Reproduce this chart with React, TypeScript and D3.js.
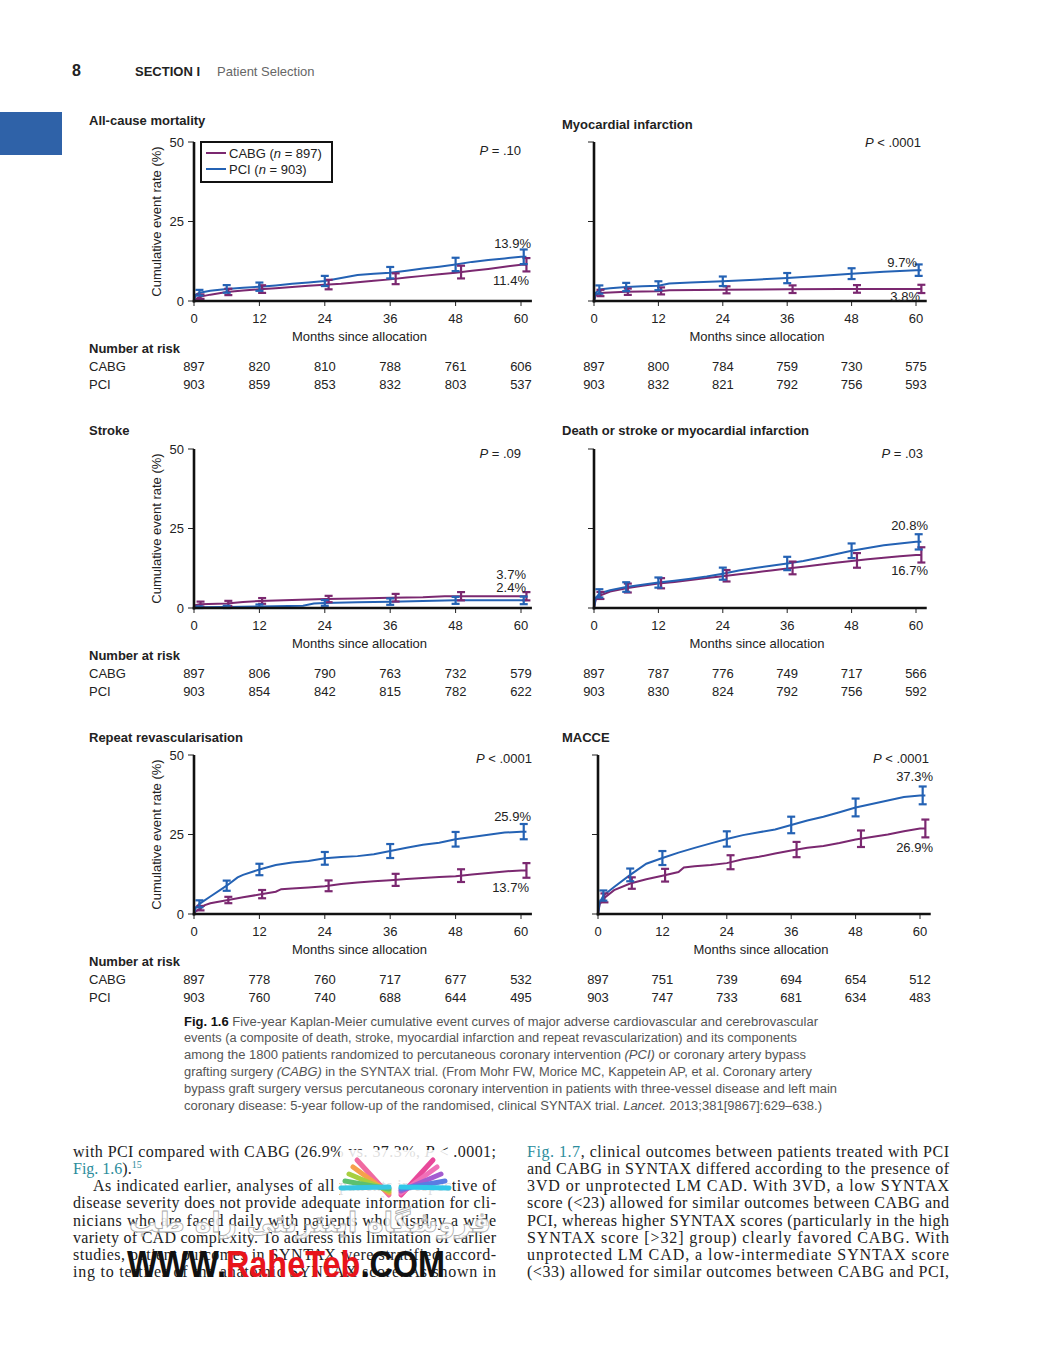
import * as d3 from "d3";

type Pt = [number, number];

// x ticks shared by every panel
const monthTicks = [0, 12, 24, 36, 48, 60];
const pciBarMonths = [1, 6, 12, 24, 36, 48, 60.5];
const cabgBarMonths = [1.2, 6.3, 12.5, 24.7, 37, 49, 61];

// All-cause mortality
const mortCabg: Pt[] = [[0, 0], [0.5, 0.8], [1, 1.3], [3, 2.0], [6, 2.8], [9, 3.3], [12, 3.7], [15, 4.0], [18, 4.4], [21, 4.8], [24, 5.1], [27, 5.4], [30, 5.9], [33, 6.4], [36, 6.8], [39, 7.4], [42, 7.9], [45, 8.4], [48, 8.9], [51, 9.5], [54, 10.1], [57, 10.8], [60, 11.4], [61, 11.4]];
const mortPci: Pt[] = [[0, 0], [0.3, 2.0], [1, 2.6], [3, 3.2], [6, 3.8], [9, 4.2], [12, 4.5], [15, 4.9], [18, 5.4], [21, 5.8], [24, 6.3], [27, 7.2], [30, 8.2], [33, 8.6], [36, 8.9], [39, 9.5], [42, 10.2], [45, 10.8], [48, 11.5], [51, 12.3], [54, 12.9], [57, 13.4], [60, 13.9], [61, 13.9]];
const mortCiCabg = [0.7, 1.0, 1.2, 1.5, 1.7, 2.0, 2.1];
const mortCiPci = [0.9, 1.2, 1.3, 1.6, 1.8, 2.1, 2.3];
const mortRiskCabg = [897, 820, 810, 788, 761, 606];
const mortRiskPci = [903, 859, 853, 832, 803, 537];

// Myocardial infarction
const miCabg: Pt[] = [[0, 0], [0.3, 1.8], [1, 2.5], [3, 2.7], [6, 2.9], [9, 3.0], [12, 3.1], [14, 3.4], [24, 3.5], [36, 3.7], [46, 3.8], [61, 3.8]];
const miPci: Pt[] = [[0, 0], [0.3, 2.5], [1, 3.6], [3, 4.0], [6, 4.4], [9, 4.6], [12, 4.8], [14, 5.5], [18, 5.8], [24, 6.2], [30, 6.7], [36, 7.2], [42, 7.9], [48, 8.6], [54, 9.2], [60, 9.7], [61, 9.7]];
const miCiCabg = [1.0, 1.0, 1.1, 1.1, 1.2, 1.2, 1.3];
const miCiPci = [1.3, 1.3, 1.4, 1.5, 1.6, 1.7, 1.8];
const miRiskCabg = [897, 800, 784, 759, 730, 575];
const miRiskPci = [903, 832, 821, 792, 756, 593];

// Stroke
const strokeCabg: Pt[] = [[0, 0], [0.3, 0.9], [1, 1.2], [6, 1.4], [9, 1.9], [12, 2.2], [18, 2.5], [24, 2.8], [30, 3.0], [36, 3.2], [42, 3.4], [46, 3.7], [61, 3.7]];
const strokePci: Pt[] = [[0, 0], [0.5, 0.2], [6, 0.3], [12, 0.5], [20, 0.7], [22, 1.4], [24, 1.6], [30, 1.8], [36, 2.0], [42, 2.2], [48, 2.4], [61, 2.4]];
const strokeCiCabg = [0.8, 0.8, 0.9, 1.0, 1.2, 1.3, 1.3];
const strokeCiPci = [0.3, 0.4, 0.6, 0.9, 1.0, 1.1, 1.2];
const strokeRiskCabg = [897, 806, 790, 763, 732, 579];
const strokeRiskPci = [903, 854, 842, 815, 782, 622];

// Death or stroke or myocardial infarction
const dsmCabg: Pt[] = [[0, 0], [0.3, 2.5], [1, 3.8], [3, 5.2], [6, 6.2], [9, 7.0], [12, 7.7], [15, 8.2], [18, 8.8], [21, 9.4], [24, 10.0], [27, 10.6], [30, 11.2], [33, 11.8], [36, 12.4], [39, 13.0], [42, 13.6], [45, 14.2], [48, 14.8], [51, 15.3], [54, 15.8], [57, 16.3], [60, 16.7], [61, 16.7]];
const dsmPci: Pt[] = [[0, 0], [0.3, 3.0], [1, 4.6], [3, 5.6], [6, 6.6], [9, 7.3], [12, 8.0], [15, 8.6], [18, 9.2], [21, 9.9], [24, 10.8], [27, 11.8], [30, 12.6], [33, 13.3], [36, 14.0], [39, 14.8], [42, 15.8], [45, 16.9], [48, 18.0], [51, 18.9], [54, 19.7], [57, 20.3], [60, 20.8], [61, 20.8]];
const dsmCiCabg = [1.1, 1.4, 1.6, 1.8, 2.0, 2.3, 2.4];
const dsmCiPci = [1.3, 1.5, 1.6, 1.9, 2.1, 2.3, 2.4];
const dsmRiskCabg = [897, 787, 776, 749, 717, 566];
const dsmRiskPci = [903, 830, 824, 792, 756, 592];

// Repeat revascularisation
const revCabg: Pt[] = [[0, 0], [0.3, 0.8], [1, 1.6], [2, 2.8], [3, 3.4], [6, 4.3], [9, 5.3], [12, 6.1], [15, 7.0], [16, 7.8], [18, 8.0], [21, 8.3], [24, 8.7], [27, 9.4], [30, 9.9], [33, 10.3], [36, 10.6], [39, 11.0], [42, 11.3], [45, 11.6], [48, 11.9], [51, 12.4], [54, 12.9], [57, 13.4], [60, 13.7], [61, 13.7]];
const revPci: Pt[] = [[0, 0], [0.3, 2.0], [1, 3.2], [3, 5.5], [6, 8.9], [8, 11.5], [9, 12.3], [12, 14.0], [15, 15.4], [18, 16.2], [21, 16.7], [24, 17.5], [27, 17.9], [30, 18.2], [33, 18.8], [36, 19.8], [39, 20.8], [42, 21.8], [45, 22.4], [48, 23.5], [51, 24.2], [54, 24.9], [57, 25.6], [60, 25.9], [61, 25.9]];
const revCiCabg = [0.7, 1.0, 1.3, 1.7, 1.9, 2.0, 2.3];
const revCiPci = [1.1, 1.6, 1.8, 2.0, 2.2, 2.3, 2.4];
const revRiskCabg = [897, 778, 760, 717, 677, 532];
const revRiskPci = [903, 760, 740, 688, 644, 495];

// MACCE
const macceCabg: Pt[] = [[0, 0], [0.3, 3.0], [1, 4.8], [3, 7.5], [6, 9.6], [9, 10.9], [12, 12.0], [15, 13.2], [16, 14.6], [18, 15.0], [21, 15.4], [24, 16.0], [27, 17.2], [30, 18.0], [33, 19.0], [36, 20.0], [39, 20.8], [42, 21.4], [45, 22.3], [48, 23.4], [51, 24.2], [54, 25.0], [57, 26.0], [60, 26.9], [61, 26.9]];
const maccePci: Pt[] = [[0, 0], [0.3, 3.5], [1, 5.8], [3, 8.5], [6, 12.3], [9, 15.8], [12, 17.6], [15, 19.3], [18, 20.8], [21, 22.2], [24, 23.6], [27, 24.8], [30, 25.7], [33, 26.6], [36, 28.0], [39, 29.4], [42, 30.6], [45, 32.0], [48, 33.5], [51, 34.6], [54, 35.7], [57, 36.8], [60, 37.3], [61, 37.3]];
const macceCiCabg = [1.4, 1.8, 2.0, 2.2, 2.4, 2.6, 2.8];
const macceCiPci = [1.6, 2.0, 2.2, 2.4, 2.6, 2.8, 2.8];
const macceRiskCabg = [897, 751, 739, 694, 654, 512];
const macceRiskPci = [903, 747, 733, 681, 634, 483];

const CABG = "#7b2870";
const PCI = "#2462b4";
const SANS = "'Liberation Sans', Arial, Helvetica, sans-serif";
const SERIF = "'Liberation Serif', 'Times New Roman', serif";
const TEAL = "#2b8c9c";

// value of a curve at a month (linear between read points)
const valueAt = (s: Pt[], m: number) => {
  for (let i = 1; i < s.length; i++) {
    const [t0, y0] = s[i - 1];
    const [t1, y1] = s[i];
    if (m <= t1) return y0 + ((y1 - y0) * (m - t0)) / (t1 - t0);
  }
  return s[s.length - 1][1];
};

interface PanelProps {
  title: string;
  titleY: number;
  x0: number;
  x60: number;
  yBottom: number;
  left: boolean;
  pRel: string;
  pVal: string;
  pX: number;
  pY: number;
  cabg: Pt[];
  pci: Pt[];
  ciCabg: number[];
  ciPci: number[];
  riskCabg: number[];
  riskPci: number[];
  labels: { text: string; x: number; y: number }[];
  legend?: boolean;
}

function Panel(p: PanelProps) {
  const x = d3.scaleLinear().domain([0, 60]).range([p.x0, p.x60]);
  const y = d3.scaleLinear().domain([0, 50]).range([p.yBottom, p.yBottom - 159]);
  const line = d3
    .line<Pt>()
    .x((d) => x(d[0]))
    .y((d) => y(d[1]))
    .curve(d3.curveLinear);
  const labelX = p.left ? 89 : 562;
  const bars = (s: Pt[], months: number[], ci: number[], color: string) =>
    months.map((m, i) => {
      const v = valueAt(s, m);
      const cx = x(m);
      const lo = y(Math.max(0, v - ci[i]));
      const hi = y(v + ci[i]);
      return (
        <g key={color + i} stroke={color} strokeWidth={2.2}>
          <line x1={cx} x2={cx} y1={lo} y2={hi} />
          <line x1={cx - 4} x2={cx + 4} y1={lo} y2={lo} />
          <line x1={cx - 4} x2={cx + 4} y1={hi} y2={hi} />
        </g>
      );
    });

  return (
    <g fontFamily={SANS} fill="#222">
      <text x={labelX} y={p.titleY} fontSize={13} fontWeight="bold">
        {p.title}
      </text>

      {/* y ticks */}
      {[0, 25, 50].map((t) => (
        <g key={t}>
          <line x1={p.x0 - 6} x2={p.x0} y1={y(t)} y2={y(t)} stroke="#222" strokeWidth={1} />
          {p.left && (
            <text x={p.x0 - 10} y={y(t) + 4.5} fontSize={13} textAnchor="end">
              {t}
            </text>
          )}
        </g>
      ))}
      {p.left && (
        <text
          transform={`translate(${p.x0 - 33},${y(25)}) rotate(-90)`}
          textAnchor="middle"
          fontSize={13}
        >
          Cumulative event rate (%)
        </text>
      )}

      {/* x ticks */}
      {monthTicks.map((t) => (
        <g key={t}>
          <line x1={x(t)} x2={x(t)} y1={p.yBottom} y2={p.yBottom + 5} stroke="#222" strokeWidth={1} />
          <text x={x(t)} y={p.yBottom + 22} fontSize={13} textAnchor="middle">
            {t}
          </text>
        </g>
      ))}
      <text x={(p.x0 + p.x60) / 2 + 2} y={p.yBottom + 40} fontSize={13} textAnchor="middle">
        Months since allocation
      </text>

      {/* curves */}
      <path d={line(p.cabg) ?? ""} fill="none" stroke={CABG} strokeWidth={2} />
      <path d={line(p.pci) ?? ""} fill="none" stroke={PCI} strokeWidth={2} />
      {bars(p.cabg, cabgBarMonths, p.ciCabg, CABG)}
      {bars(p.pci, pciBarMonths, p.ciPci, PCI)}

      {/* axes */}
      <line x1={p.x0} x2={p.x0} y1={y(50)} y2={p.yBottom + 1.5} stroke="#111" strokeWidth={2.6} />
      <line x1={p.x0 - 1.3} x2={x(62)} y1={p.yBottom} y2={p.yBottom} stroke="#111" strokeWidth={2.6} />

      <text x={p.pX} y={p.pY} fontSize={13} textAnchor="end">
        <tspan fontStyle="italic">P</tspan>
        {` ${p.pRel} ${p.pVal}`}
      </text>
      {p.labels.map((l) => (
        <text key={l.text} x={l.x} y={l.y} fontSize={13} textAnchor="end">
          {l.text}
        </text>
      ))}

      {p.legend && (
        <g>
          <rect x={201} y={142} width={131} height={40} fill="#fff" stroke="#111" strokeWidth={2} />
          <line x1={206} x2={226} y1={153} y2={153} stroke={CABG} strokeWidth={2} />
          <text x={229} y={157.5} fontSize={13}>
            CABG (<tspan fontStyle="italic">n</tspan> = 897)
          </text>
          <line x1={206} x2={226} y1={169} y2={169} stroke={PCI} strokeWidth={2} />
          <text x={229} y={173.5} fontSize={13}>
            PCI (<tspan fontStyle="italic">n</tspan> = 903)
          </text>
        </g>
      )}

      {/* number at risk */}
      {p.left && (
        <g fontSize={13}>
          <text x={89} y={p.yBottom + 51.5} fontWeight="bold">
            Number at risk
          </text>
          <text x={89} y={p.yBottom + 69.5}>CABG</text>
          <text x={89} y={p.yBottom + 87.5}>PCI</text>
        </g>
      )}
      {monthTicks.map((t, i) => (
        <g key={"r" + t} fontSize={13} textAnchor="middle">
          <text x={x(t)} y={p.yBottom + 69.5}>{p.riskCabg[i]}</text>
          <text x={x(t)} y={p.yBottom + 87.5}>{p.riskPci[i]}</text>
        </g>
      ))}
    </g>
  );
}

const captionLines: { parts: [string, string][]; w: number }[] = [
  { parts: [["b", "Fig. 1.6"], ["n", " Five-year Kaplan-Meier cumulative event curves of major adverse cardiovascular and cerebrovascular"]], w: 634 },
  { parts: [["n", "events (a composite of death, stroke, myocardial infarction and repeat revascularization) and its components"]], w: 613 },
  { parts: [["n", "among the 1800 patients randomized to percutaneous coronary intervention "], ["i", "(PCI)"], ["n", " or coronary artery bypass"]], w: 622 },
  { parts: [["n", "grafting surgery "], ["i", "(CABG)"], ["n", " in the SYNTAX trial. (From Mohr FW, Morice MC, Kappetein AP, et al. Coronary artery"]], w: 628 },
  { parts: [["n", "bypass graft surgery versus percutaneous coronary intervention in patients with three-vessel disease and left main"]], w: 653 },
  { parts: [["n", "coronary disease: 5-year follow-up of the randomised, clinical SYNTAX trial. "], ["i", "Lancet."], ["n", " 2013;381[9867]:629–638.)"]], w: 638 },
];

const leftBody: { parts: [string, string][]; x: number; w?: number }[] = [
  { parts: [["n", "with PCI compared with CABG (26.9% vs. 37.3%, "], ["i", "P"], ["n", " < .0001;"]], x: 73, w: 423 },
  { parts: [["t", "Fig. 1.6"], ["n", ")."], ["s", "15"]], x: 73 },
  { parts: [["n", "As indicated earlier, analyses of all patients irrespective of"]], x: 93, w: 403 },
  { parts: [["n", "disease severity does not provide adequate information for cli-"]], x: 73, w: 423 },
  { parts: [["n", "nicians who are faced daily with patients who display a wide"]], x: 73, w: 423 },
  { parts: [["n", "variety of CAD complexity. To address this limitation of earlier"]], x: 73, w: 423 },
  { parts: [["n", "studies, patient outcomes in SYNTAX were stratified accord-"]], x: 73, w: 423 },
  { parts: [["n", "ing to tertiles of the anatomic SYNTAX score. As shown in"]], x: 73, w: 423 },
];

const rightBody: { parts: [string, string][]; x: number; w?: number }[] = [
  { parts: [["t", "Fig. 1.7"], ["n", ", clinical outcomes between patients treated with PCI"]], x: 527, w: 422 },
  { parts: [["n", "and CABG in SYNTAX differed according to the presence of"]], x: 527, w: 422 },
  { parts: [["n", "3VD or unprotected LM CAD. With 3VD, a low SYNTAX"]], x: 527, w: 422 },
  { parts: [["n", "score (<23) allowed for similar outcomes between CABG and"]], x: 527, w: 422 },
  { parts: [["n", "PCI, whereas higher SYNTAX scores (particularly in the high"]], x: 527, w: 422 },
  { parts: [["n", "SYNTAX score [>32] group) clearly favored CABG. With"]], x: 527, w: 422 },
  { parts: [["n", "unprotected LM CAD, a low-intermediate SYNTAX score"]], x: 527, w: 422 },
  { parts: [["n", "(<33) allowed for similar outcomes between CABG and PCI,"]], x: 527, w: 422 },
];

const fanColors = ["#f06aa0", "#f6a04c", "#a8cf40", "#5cc070", "#38c6e2", "#e8489a", "#f070b8", "#a45cd0", "#5a7ce2", "#30c8ea"];

function Parts({ parts }: { parts: [string, string][] }) {
  return (
    <>
      {parts.map(([k, s], i) =>
        k === "b" ? (
          <tspan key={i} fontWeight="bold" fill="#111">{s}</tspan>
        ) : k === "i" ? (
          <tspan key={i} fontStyle="italic">{s}</tspan>
        ) : k === "t" ? (
          <tspan key={i} fill={TEAL}>{s}</tspan>
        ) : k === "s" ? (
          <tspan key={i} fill={TEAL} fontSize={10} dy={-6}>{s}</tspan>
        ) : (
          <tspan key={i}>{s}</tspan>
        )
      )}
    </>
  );
}

export default function App() {
  return (
    <svg
      width={1052}
      height={1346}
      style={{ position: "absolute", left: 0, top: 0, background: "#fff" }}
    >
      <rect x={0} y={0} width={1052} height={1346} fill="#fff" />
      {/* header */}
      <text x={72} y={76} fontFamily={SANS} fontSize={16} fontWeight="bold" fill="#222">8</text>
      <text x={135} y={75.5} fontFamily={SANS} fontSize={13} fontWeight="bold" fill="#222">SECTION I</text>
      <text x={217} y={75.5} fontFamily={SANS} fontSize={13} fill="#666">Patient Selection</text>
      <rect x={0} y={112} width={62} height={43} fill="#2f62a8" />

      <Panel title="All-cause mortality" titleY={124.5} x0={194} x60={521} yBottom={301} left
        pRel="=" pVal=".10" pX={521} pY={154.5}
        cabg={mortCabg} pci={mortPci} ciCabg={mortCiCabg} ciPci={mortCiPci}
        riskCabg={mortRiskCabg} riskPci={mortRiskPci} legend
        labels={[{ text: "13.9%", x: 531, y: 247.5 }, { text: "11.4%", x: 529, y: 284.5 }]} />
      <Panel title="Myocardial infarction" titleY={128.5} x0={594} x60={916} yBottom={301} left={false}
        pRel="<" pVal=".0001" pX={921} pY={146.5}
        cabg={miCabg} pci={miPci} ciCabg={miCiCabg} ciPci={miCiPci}
        riskCabg={miRiskCabg} riskPci={miRiskPci}
        labels={[{ text: "9.7%", x: 917, y: 266.5 }, { text: "3.8%", x: 920, y: 300.5 }]} />
      <Panel title="Stroke" titleY={434.5} x0={194} x60={521} yBottom={608} left
        pRel="=" pVal=".09" pX={521} pY={457.5}
        cabg={strokeCabg} pci={strokePci} ciCabg={strokeCiCabg} ciPci={strokeCiPci}
        riskCabg={strokeRiskCabg} riskPci={strokeRiskPci}
        labels={[{ text: "3.7%", x: 526, y: 578.5 }, { text: "2.4%", x: 526, y: 591.5 }]} />
      <Panel title="Death or stroke or myocardial infarction" titleY={434.5} x0={594} x60={916} yBottom={608} left={false}
        pRel="=" pVal=".03" pX={923} pY={457.5}
        cabg={dsmCabg} pci={dsmPci} ciCabg={dsmCiCabg} ciPci={dsmCiPci}
        riskCabg={dsmRiskCabg} riskPci={dsmRiskPci}
        labels={[{ text: "20.8%", x: 928, y: 529.5 }, { text: "16.7%", x: 928, y: 574.5 }]} />
      <Panel title="Repeat revascularisation" titleY={741.5} x0={194} x60={521} yBottom={914} left
        pRel="<" pVal=".0001" pX={532} pY={762.5}
        cabg={revCabg} pci={revPci} ciCabg={revCiCabg} ciPci={revCiPci}
        riskCabg={revRiskCabg} riskPci={revRiskPci}
        labels={[{ text: "25.9%", x: 531, y: 820.5 }, { text: "13.7%", x: 529, y: 891.5 }]} />
      <Panel title="MACCE" titleY={741.5} x0={598} x60={920} yBottom={914} left={false}
        pRel="<" pVal=".0001" pX={929} pY={762.5}
        cabg={macceCabg} pci={maccePci} ciCabg={macceCiCabg} ciPci={macceCiPci}
        riskCabg={macceRiskCabg} riskPci={macceRiskPci}
        labels={[{ text: "37.3%", x: 933, y: 780.5 }, { text: "26.9%", x: 933, y: 851.5 }]} />

      {/* caption */}
      <g fontFamily={SANS} fontSize={12.5} fill="#555">
        {captionLines.map((l, i) => (
          <text key={i} x={184} y={1025.5 + i * 16.8} textLength={l.w} lengthAdjust="spacingAndGlyphs">
            <Parts parts={l.parts} />
          </text>
        ))}
      </g>

      {/* body text */}
      <g fontFamily={SERIF} fontSize={16} fill="#222">
        {[...leftBody, ...rightBody].map((l, i) => (
          <text
            key={i}
            x={l.x}
            y={1157 + (i % 8) * 17.15}
            textLength={l.w}
            lengthAdjust={l.w ? "spacing" : undefined}
          >
            <Parts parts={l.parts} />
          </text>
        ))}
      </g>

      {/* watermark */}
      <g>
        <rect x={340} y={1150} width={112} height={48} fill="#fff" opacity={0.85} />
        {fanColors.map((c, i) => {
          const side = i < 5 ? -1 : 1;
          const k = i % 5;
          return (
            <line
              key={c + i}
              x1={395 + side * 6}
              x2={395 + side * (38 + k * 4)}
              y1={1195 - k * 2}
              y2={1160 + k * 7}
              stroke={c}
              strokeWidth={5}
              strokeLinecap="round"
            />
          );
        })}
        <text x={310} y={1232} fontFamily="'DejaVu Sans', sans-serif" fontSize={28} fontWeight="bold"
          textAnchor="middle" fill="#fff" fillOpacity={0.85} stroke="#aaa" strokeWidth={0.8}>
          فروشگاه اینترنتی راه طب
        </text>
        <text x={127} y={1277} fontFamily={SANS} fontSize={36} fontWeight="bold" textLength={318}
          lengthAdjust="spacingAndGlyphs" fill="#111">
          WWW.<tspan fill="#e8141b">RaheTeb</tspan>.COM
        </text>
      </g>
    </svg>
  );
}
